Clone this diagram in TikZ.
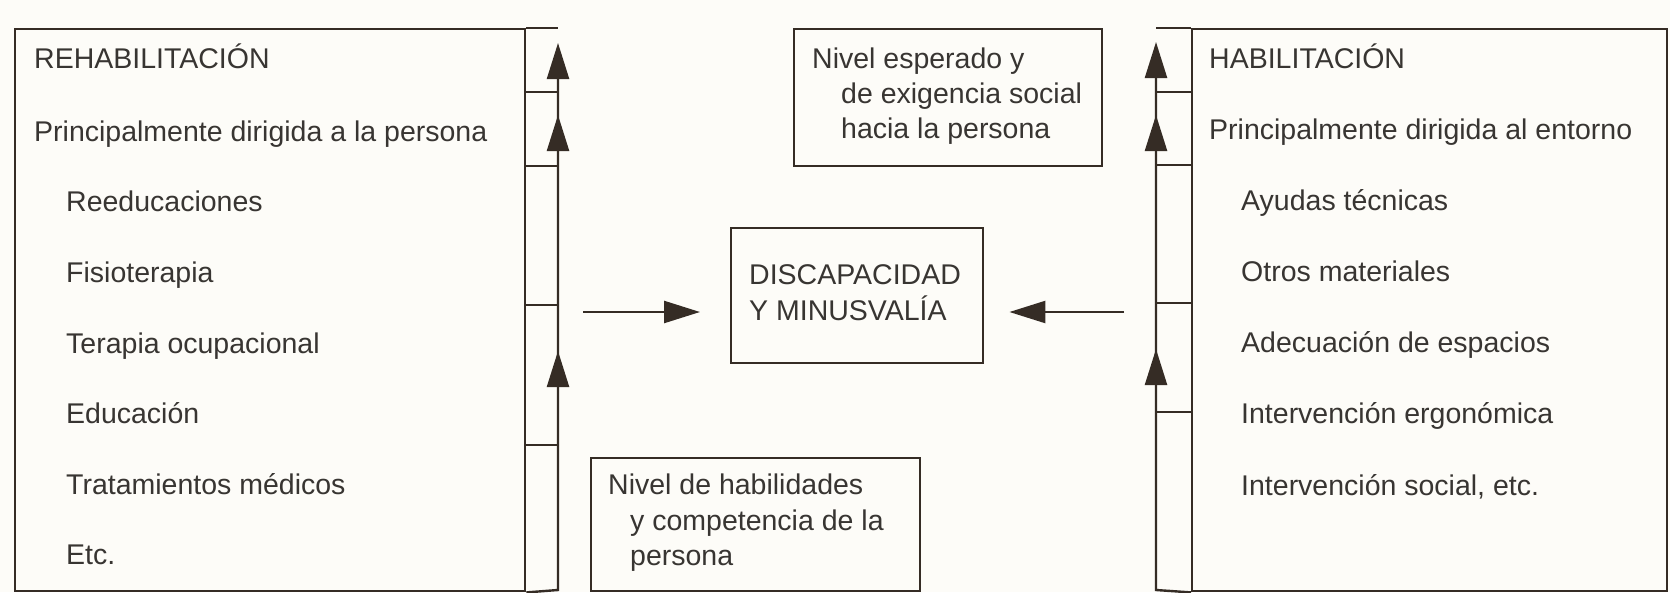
\documentclass[tikz,border=0pt]{standalone}
\usepackage{fontspec}
\setmainfont{Liberation Sans}
\usetikzlibrary{arrows.meta}
\definecolor{ink}{HTML}{352C25}
\definecolor{txt}{HTML}{383532}
\definecolor{paper}{HTML}{FDFCF8}
\begin{document}
\begin{tikzpicture}[x=1pt,y=-1pt,
  line/.style={draw=ink, line width=2.4pt},
  tipped/.style={-{Triangle[length=36pt,width=22pt]}},
  lbl/.style={anchor=base west, inner sep=0pt, text=txt, font=\fontsize{28.5}{31}\selectfont},
  panel/.style={draw=ink, line width=2.4pt, inner sep=0pt, anchor=north west}
]
\fill[paper] (0,0) rectangle (1670,592);
\useasboundingbox (0,0) rectangle (1670,592);

% ---------- left panel ----------
\node[panel, minimum width=510pt, minimum height=562pt] (lbox) at (14,28) {};
\coordinate (lcTop) at (558,28);
\coordinate (lcBot) at (558,590);
\coordinate (lt1) at (558,43);
\coordinate (lt2) at (558,115);
\coordinate (lt3) at (558,351);
\coordinate (lk1) at (558,92);
\coordinate (lk2) at (558,166);
\coordinate (lk3) at (558,305);
\coordinate (lk4) at (558,445);
\draw[line] (lbox.north east) -- (lcTop);
\foreach \k in {lk1,lk2,lk3,lk4} \draw[line] (lbox.east |- \k) -- (\k);
\draw[line,tipped] (lbox.south east) -- (lcBot) -- (lt1);
\draw[line,tipped] (lk2) -- (lt2);
\draw[line,tipped] (lk4) -- (lt3);

\node[lbl] (l0) at (34,68) {REHABILITACIÓN};
\node[lbl] (l1) at (34,141) {Principalmente dirigida a la persona};
\node[lbl] (l2) at (66,211) {Reeducaciones};
\node[lbl] (l3) at (66,282) {Fisioterapia};
\node[lbl] (l4) at (66,353) {Terapia ocupacional};
\node[lbl] (l5) at (66,423) {Educación};
\node[lbl] (l6) at (66,494) {Tratamientos médicos};
\node[lbl] (l7) at (66,564) {Etc.};

% ---------- right panel ----------
\node[panel, minimum width=475pt, minimum height=562pt] (rbox) at (1191,28) {};
\coordinate (rcTop) at (1156,28);
\coordinate (rcBot) at (1156,590);
\coordinate (rt1) at (1156,42);
\coordinate (rt2) at (1156,115);
\coordinate (rt3) at (1156,349);
\coordinate (rk1) at (1156,92);
\coordinate (rk2) at (1156,165);
\coordinate (rk3) at (1156,303);
\coordinate (rk4) at (1156,412);
\draw[line] (rbox.north west) -- (rcTop);
\foreach \k in {rk1,rk2,rk3,rk4} \draw[line] (rbox.west |- \k) -- (\k);
\draw[line,tipped] (rbox.south west) -- (rcBot) -- (rt1);
\draw[line,tipped] (rk2) -- (rt2);
\draw[line,tipped] (rk4) -- (rt3);

\node[lbl] (r0) at (1209,68) {HABILITACIÓN};
\node[lbl] (r1) at (1209,139) {Principalmente dirigida al entorno};
\node[lbl] (r2) at (1241,210) {Ayudas técnicas};
\node[lbl] (r3) at (1241,281) {Otros materiales};
\node[lbl] (r4) at (1241,352) {Adecuación de espacios};
\node[lbl] (r5) at (1241,423) {Intervención ergonómica};
\node[lbl] (r6) at (1241,495) {Intervención social, etc.};

% ---------- top box ----------
\node[panel, minimum width=308pt, minimum height=137pt] (tbox) at (793,28) {};
\node[lbl] (t0) at (812,68) {Nivel esperado y};
\node[lbl] (t1) at (841,103) {de exigencia social};
\node[lbl] (t2) at (841,138) {hacia la persona};

% ---------- centre box ----------
\node[panel, minimum width=252pt, minimum height=135pt] (cbox) at (730,227) {};
\node[lbl] (c0) at (749,284) {DISCAPACIDAD};
\node[lbl] (c1) at (749,320) {Y MINUSVALÍA};

% ---------- bottom box ----------
\node[panel, minimum width=329pt, minimum height=133pt] (bbox) at (590,457) {};
\node[lbl] (b0) at (608,494) {Nivel de habilidades};
\node[lbl] (b1) at (630,530) {y competencia de la};
\node[lbl] (b2) at (630,565) {persona};

% ---------- horizontal arrows ----------
\coordinate (ha) at (583,312);
\coordinate (hb) at (1124,312);
\draw[line,tipped,shorten >=30pt] (ha) -- (ha -| cbox.west);
\draw[line,tipped,shorten >=25pt] (hb) -- (hb -| cbox.east);
\end{tikzpicture}
\end{document}
